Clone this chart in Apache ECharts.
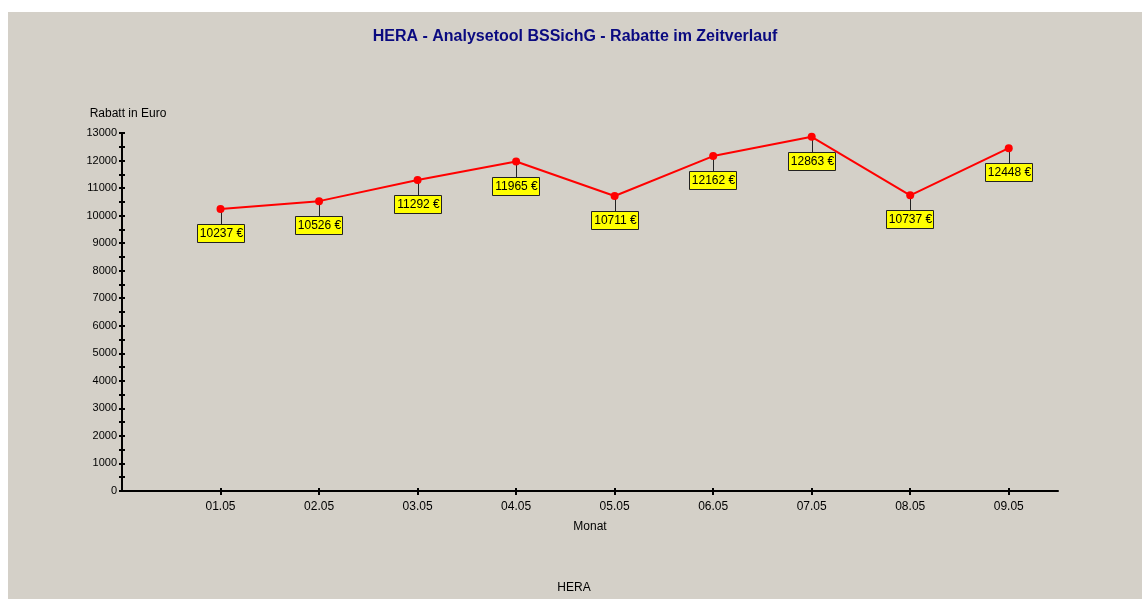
<!DOCTYPE html>
<html>
<head>
<meta charset="utf-8">
<script src="https://cdn.jsdelivr.net/npm/echarts@6/dist/echarts.min.js"></script>
<style>
  html, body { margin: 0; padding: 0; background: #ffffff; }
  #bg { position: absolute; left: 8px; top: 12px; width: 1134px; height: 587px; background: #d4d0c8; }
  #main { position: absolute; left: 0; top: 0; width: 1142px; height: 599px; }
</style>
</head>
<body>
<div id="bg"></div>
<div id="main"></div>
<script>
// Monate und Rabatte
var months = ['01.05', '02.05', '03.05', '04.05', '05.05', '06.05', '07.05', '08.05', '09.05'];
var rabatt = [10237, 10526, 11292, 11965, 10711, 12162, 12863, 10737, 12448];
var monthPos = [1, 2, 3, 4, 5, 6, 7, 8, 9];

var points = [];
for (var i = 0; i < months.length; i++) {
  points.push([monthPos[i], rabatt[i]]);
}

var font = '"Liberation Sans", Arial, sans-serif';
var myChart = echarts.init(document.getElementById('main'));

option = {
  backgroundColor: 'transparent',
  animation: false,
  graphic: [
    {
      type: 'text', x: 575, y: 37,
      style: { text: 'HERA - Analysetool BSSichG - Rabatte im Zeitverlauf', fill: '#0a0a80',
        font: 'bold 16px ' + font, align: 'center', verticalAlign: 'middle' }
    },
    {
      type: 'text', x: 128, y: 114,
      style: { text: 'Rabatt in Euro', fill: '#000', font: '12px ' + font, align: 'center', verticalAlign: 'middle' }
    },
    {
      type: 'text', x: 574, y: 588,
      style: { text: 'HERA', fill: '#000', font: '12px ' + font, align: 'center', verticalAlign: 'middle' }
    }
  ],
  grid: { left: 122, right: 84, top: 133, bottom: 108, containLabel: false },
  xAxis: [{
    type: 'value',
    position: 'bottom',
    min: 0,
    max: 9.5,
    interval: 1,
    name: 'Monat',
    nameLocation: 'middle',
    nameGap: 30,
    nameTextStyle: { color: '#000', fontSize: 12, fontFamily: font },
    splitLine: { show: false },
    axisLine: { show: true, onZero: false, lineStyle: { color: '#000', width: 2 } },
    axisTick: { show: true, length: 4, customValues: monthPos, lineStyle: { color: '#000', width: 2 } },
    axisLabel: {
      customValues: monthPos, margin: 10, color: '#000', fontSize: 12, fontFamily: font,
      formatter: function (v) { return months[v - 1] || ''; }
    }
  }, {
    type: 'value',
    position: 'bottom',
    min: 0,
    max: 9.5,
    interval: 1,
    splitLine: { show: false },
    axisLine: { show: false, onZero: false },
    axisTick: { show: true, inside: true, length: 3, customValues: monthPos, lineStyle: { color: '#000', width: 2 } },
    axisLabel: { show: false }
  }],
  yAxis: [{
    type: 'value',
    position: 'left',
    min: 0,
    max: 13000,
    interval: 500,
    splitLine: { show: false },
    axisLine: { show: true, onZero: false, lineStyle: { color: '#000', width: 2 } },
    axisTick: { show: true, length: 3, lineStyle: { color: '#000', width: 2 } },
    axisLabel: {
      margin: 5, color: '#000', fontSize: 11, fontFamily: font,
      formatter: function (v) { return v % 1000 === 0 ? String(v) : ''; }
    }
  }, {
    type: 'value',
    position: 'left',
    min: 0,
    max: 13000,
    interval: 500,
    splitLine: { show: false },
    axisLine: { show: false, onZero: false },
    axisTick: { show: true, inside: true, length: 3, lineStyle: { color: '#000', width: 2 } },
    axisLabel: { show: false }
  }],
  series: [{
    name: 'Rabatt',
    type: 'line',
    data: points,
    z: 4,
    symbol: 'circle',
    symbolSize: 8,
    lineStyle: { color: '#ff0000', width: 2 },
    itemStyle: { color: '#ff0000' }
  }, {
    name: 'Beschriftung',
    type: 'custom',
    data: points,
    z: 3,
    renderItem: function (params, api) {
      var p = api.coord([api.value(0), api.value(1)]);
      var x = Math.round(p[0]);
      var y = Math.round(p[1]);
      return {
        type: 'group',
        children: [
          { type: 'line', shape: { x1: x + 0.5, y1: y, x2: x + 0.5, y2: y + 15 },
            style: { stroke: '#222', lineWidth: 1 } },
          { type: 'rect', shape: { x: x - 23.5, y: y + 15.5, width: 47, height: 18 },
            style: { fill: '#ffff00', stroke: '#222', lineWidth: 1 } },
          { type: 'text', x: x + 0.5, y: y + 25,
            style: { text: api.value(1) + ' €', fill: '#000', font: '12px ' + font,
              align: 'center', verticalAlign: 'middle' } }
        ]
      };
    }
  }]
};

myChart.setOption(option);
</script>
</body>
</html>
